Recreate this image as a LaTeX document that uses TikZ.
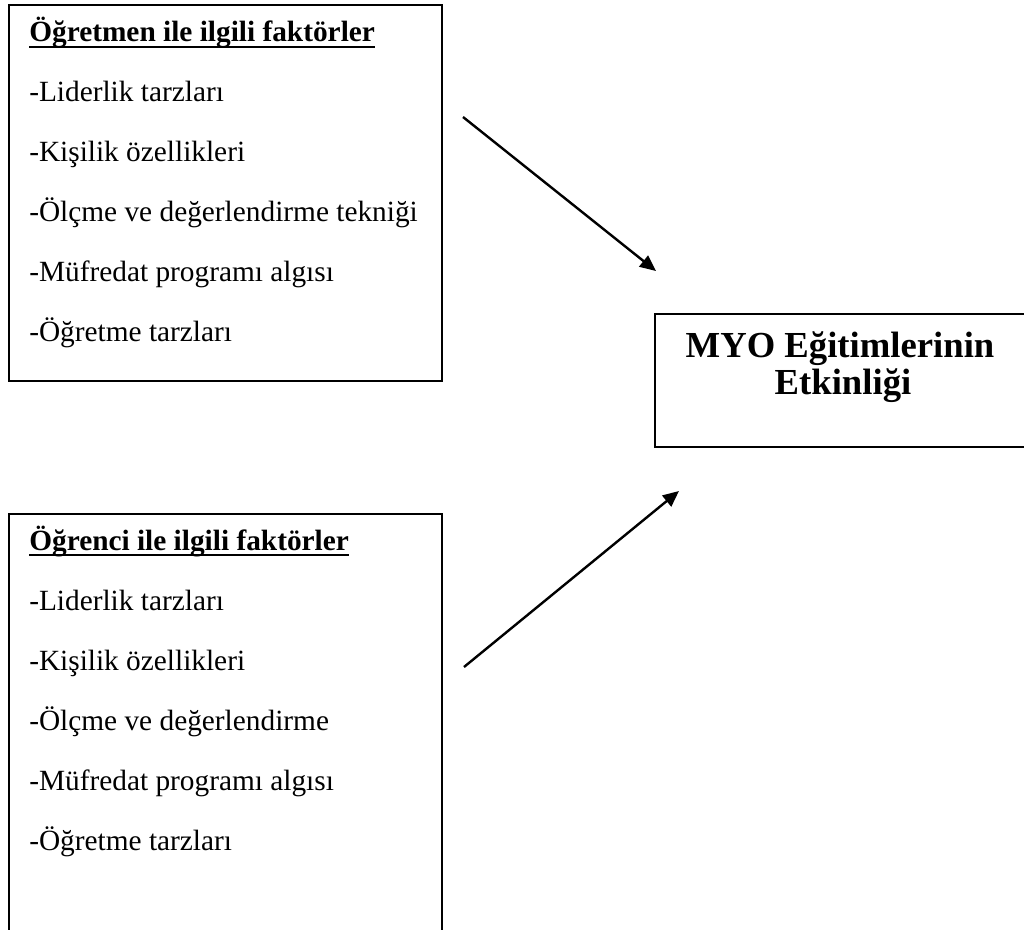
\documentclass[tikz,border=0pt]{standalone}
\usepackage{fontspec}
\setmainfont{Liberation Serif}
\usetikzlibrary{arrows.meta}
\begin{document}
\begin{tikzpicture}[x=0.75pt,y=-0.75pt,
  boxst/.style={draw=black,line width=1.5pt,rectangle,inner sep=0pt,anchor=north west},
  itemst/.style={inner sep=0pt,anchor=base west,font=\fontsize{22}{26}\selectfont},
  headst/.style={itemst,font=\fontsize{22}{26}\selectfont\bfseries},
  ulst/.style={line width=1.4pt},
  bigst/.style={inner sep=0pt,anchor=base,font=\fontsize{27.5}{33}\selectfont\bfseries},
  arrst/.style={line width=1.8pt,-{Triangle[length=12pt,width=10.5pt]}}]
\useasboundingbox (0,0) rectangle (1024,930);
\clip (0,0) rectangle (1024,930);
% boxes
\node[boxst,minimum width=324.75pt,minimum height=282pt] (topbox) at (8,4) {};
\node[boxst,minimum width=324.75pt,minimum height=340pt] (botbox) at (8,513) {};
\node[boxst,minimum width=310pt,minimum height=99.75pt] (resbox) at (654,313) {};
% top box text
\node[headst] (t0) at (29,42) {Öğretmen ile ilgili faktörler};
\draw[ulst] ([yshift=-4pt]t0.base west) -- ([yshift=-4pt]t0.base east);
\node[itemst] (t1) at (29,102) {-Liderlik tarzları};
\node[itemst] (t2) at (29,162) {-Kişilik özellikleri};
\node[itemst] (t3) at (29,222) {-Ölçme ve değerlendirme tekniği};
\node[itemst] (t4) at (29,282) {-Müfredat programı algısı};
\node[itemst] (t5) at (29,342) {-Öğretme tarzları};
% bottom box text
\node[headst] (b0) at (29,550) {Öğrenci ile ilgili faktörler};
\draw[ulst] ([yshift=-4pt]b0.base west) -- ([yshift=-4pt]b0.base east);
\node[itemst] (b1) at (29,610) {-Liderlik tarzları};
\node[itemst] (b2) at (29,670) {-Kişilik özellikleri};
\node[itemst] (b3) at (29,730) {-Ölçme ve değerlendirme};
\node[itemst] (b4) at (29,790) {-Müfredat programı algısı};
\node[itemst] (b5) at (29,850) {-Öğretme tarzları};
% result text
\node[bigst] (r1) at (840,358) {MYO Eğitimlerinin};
\node[bigst] (r2) at (843,394) {Etkinliği};
% arrows
\coordinate (a1s) at (463,117);
\coordinate (a1e) at (656,271);
\coordinate (a2s) at (464,667);
\coordinate (a2e) at (679,491);
\draw[arrst] (a1s) -- (a1e);
\draw[arrst] (a2s) -- (a2e);
\end{tikzpicture}
\end{document}
